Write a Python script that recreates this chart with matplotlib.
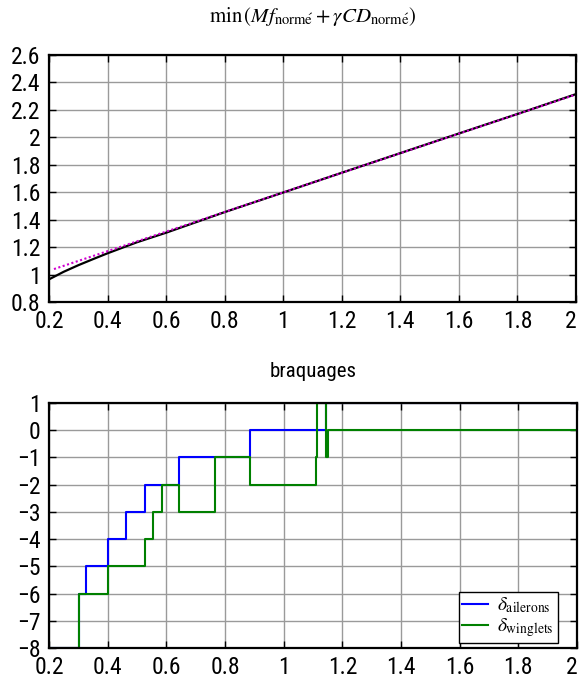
import numpy as np
import matplotlib
matplotlib.use('Agg')
import matplotlib.pyplot as plt

# courbe du haut : critere minimal
x_crit = [0.2, 0.25, 0.3, 0.35, 0.4, 0.5, 0.6, 0.7, 0.8, 1.0, 1.2, 1.4, 1.6, 1.8, 2.0]
y_crit = [0.965, 1.02, 1.068, 1.112, 1.155, 1.235, 1.305, 1.38, 1.455, 1.598, 1.742, 1.885, 2.028, 2.17, 2.315]
x_lin = [0.217, 2.0]
y_lin = [1.04, 2.312]

# braquages (marches)
x_ail = [0.2, 0.302, 0.327, 0.4, 0.464, 0.528, 0.643, 0.884, 1.143, 2.0]
d_ail = [-8, -6, -5, -4, -3, -2, -1, 0, 1, 1]
x_wing = [0.2, 0.302, 0.4, 0.528, 0.556, 0.586, 0.643, 0.765, 0.884,
          1.110, 1.113, 1.145, 1.150, 2.0]
d_wing = [-8, -6, -5, -4, -3, -2, -3, -1, -2, -1, 1, -1, 0, 0]

x_ticks = [0.2, 0.4, 0.6, 0.8, 1.0, 1.2, 1.4, 1.6, 1.8, 2.0]
x_labels = ['0.2', '0.4', '0.6', '0.8', '1', '1.2', '1.4', '1.6', '1.8', '2']
y_ticks_top = [0.8, 1.0, 1.2, 1.4, 1.6, 1.8, 2.0, 2.2, 2.4, 2.6]
y_labels_top = ['0.8', '1', '1.2', '1.4', '1.6', '1.8', '2', '2.2', '2.4', '2.6']
y_ticks_bot = list(range(-8, 2))

plt.rcParams['font.family'] = ['Nimbus Sans Narrow', 'Roboto Condensed', 'Archivo Narrow',
                               'PT Sans Narrow', 'Liberation Sans Narrow', 'DejaVu Sans']
plt.rcParams['mathtext.fontset'] = 'stix'
plt.rcParams['axes.unicode_minus'] = True

W, H = 581, 681
fig = plt.figure(figsize=(W / 100, H / 100), dpi=100)


def px_axes(left, right, top, bottom):
    return fig.add_axes([left / W, 1 - bottom / H, (right - left) / W, (bottom - top) / H])


def style_axes(ax):
    ax.set_xlim(0.2, 2.0)
    ax.set_xticks(x_ticks)
    ax.set_xticklabels(x_labels)
    # le dernier label colle au bord droit de l'image
    ax.get_xticklabels()[-1].set_horizontalalignment('right')
    ax.grid(True, color='#9a9a9a', lw=1.0)
    ax.set_axisbelow(True)
    ax.tick_params(direction='in', top=True, right=True, length=5, width=1,
                   labelsize=17, pad=6)
    for sp in ax.spines.values():
        sp.set_linewidth(1.6)


ax1 = px_axes(49, 576, 55, 302)
ax1.plot(x_crit, y_crit, color='black', lw=1.6)
ax1.plot(x_lin, y_lin, color='#d000d0', lw=1.5, ls=(0, (1, 1.2)))
style_axes(ax1)
ax1.set_ylim(0.8, 2.6)
ax1.set_yticks(y_ticks_top)
ax1.set_yticklabels(y_labels_top)
ax1.set_title(r'$\mathrm{min}\,(Mf_{\mathrm{norm\acute{e}}} + \gamma CD_{\mathrm{norm\acute{e}}})$',
              fontsize=15, pad=24)

ax2 = px_axes(49, 577, 403, 648)
ax2.plot(x_ail, d_ail, color='#0000ff', lw=1.5, drawstyle='steps-post',
         label=r'$\delta_{\mathrm{ailerons}}$')
ax2.plot(x_wing, d_wing, color='#008000', lw=1.5, drawstyle='steps-post',
         label=r'$\delta_{\mathrm{winglets}}$')
style_axes(ax2)
ax2.set_ylim(-8, 1)
ax2.set_yticks(y_ticks_bot)
ax2.set_title('braquages', fontsize=15, pad=19)
leg = ax2.legend(loc='lower right', bbox_to_anchor=(0.964, 0.02), borderaxespad=0,
                 fancybox=False, framealpha=1, edgecolor='black', fontsize=14,
                 handlelength=1.3, handletextpad=0.5, borderpad=0.2, labelspacing=0.05)
leg.get_frame().set_linewidth(1.0)

fig.savefig('out.png', dpi=100)
